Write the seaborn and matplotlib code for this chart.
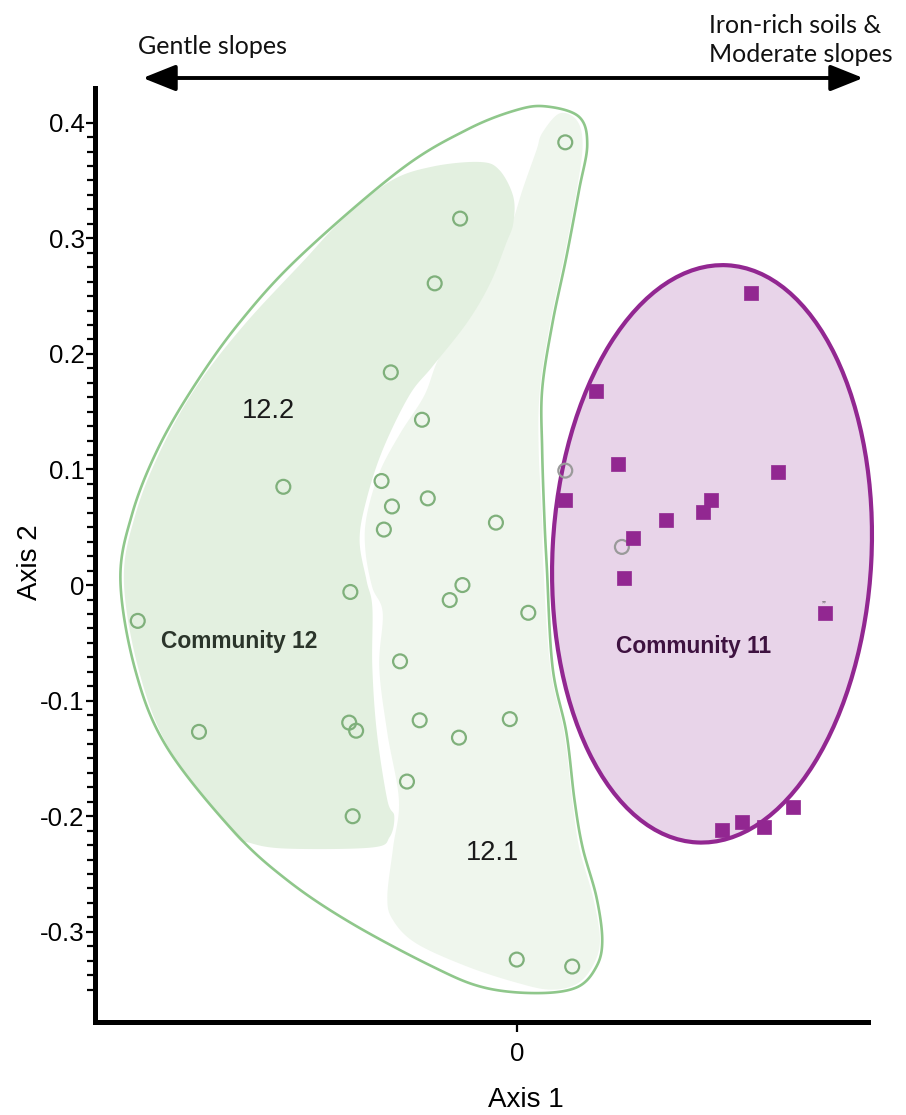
import numpy as np
import pandas as pd
import matplotlib
matplotlib.use("Agg")
import matplotlib.pyplot as plt
import seaborn as sns
from matplotlib import font_manager as fm
from matplotlib.patches import Polygon, Ellipse, FancyArrowPatch
from matplotlib.ticker import FixedLocator

# ---------------- data ----------------
# Community 12 sites (open green circles)
c12_x = [0.042, -0.049, -0.071, -0.109, -0.082, -0.202, -0.117, -0.108, -0.077,
         -0.115, -0.018, -0.328, -0.144, -0.047, -0.058, 0.010, -0.101, -0.275,
         -0.145, -0.139, -0.084, -0.006, -0.050, -0.095, -0.142, 0.000, 0.048]
c12_y = [0.383, 0.317, 0.261, 0.184, 0.143, 0.085, 0.090, 0.068, 0.075,
         0.048, 0.054, -0.031, -0.006, 0.000, -0.013, -0.024, -0.066, -0.127,
         -0.119, -0.126, -0.117, -0.116, -0.132, -0.170, -0.200, -0.324, -0.330]

# Community 12 sites falling inside the Community 11 envelope (grey circles)
c12_grey_x = [0.042, 0.091]
c12_grey_y = [0.099, 0.033]

# Community 11 sites (filled purple squares)
c11_x = [0.203, 0.069, 0.088, 0.042, 0.226, 0.168, 0.161, 0.129, 0.101, 0.093,
         0.267, 0.178, 0.195, 0.214, 0.239]
c11_y = [0.253, 0.168, 0.105, 0.074, 0.098, 0.074, 0.063, 0.056, 0.041, 0.006,
         -0.024, -0.212, -0.205, -0.209, -0.192]

y_ticks = [-0.3, -0.2, -0.1, 0.0, 0.1, 0.2, 0.3, 0.4]
y_tick_labels = ["-0.3", "-0.2", "-0.1", "0", "0.1", "0.2", "0.3", "0.4"]
x_ticks = [0.0]
x_tick_labels = ["0"]

# ---------------- outlines (data units) ----------------
outline_c12 = [
    (0.026, 0.414), (0.054, 0.405), (0.061, 0.381), (0.054, 0.342), (0.043, 0.284),
    (0.031, 0.227), (0.022, 0.169), (0.022, 0.117), (0.024, 0.056), (0.026, 0.016),
    (0.031, -0.071), (0.043, -0.128), (0.050, -0.186), (0.057, -0.227), (0.069, -0.270),
    (0.074, -0.307), (0.069, -0.330), (0.052, -0.348), (0.017, -0.353), (-0.029, -0.348),
    (-0.073, -0.330), (-0.144, -0.292), (-0.199, -0.255), (-0.246, -0.212), (-0.303, -0.140),
    (-0.330, -0.074), (-0.343, 0.004), (-0.333, 0.061), (-0.311, 0.117),
    (-0.280, 0.171), (-0.240, 0.227), (-0.188, 0.284), (-0.101, 0.359), (-0.043, 0.394),
    (0.000, 0.411),
]

region_122 = [
    (-0.110, 0.349), (-0.073, 0.362), (-0.032, 0.366), (-0.015, 0.359), (-0.003, 0.336),
    (-0.003, 0.313), (-0.009, 0.296), (-0.023, 0.261), (-0.043, 0.227), (-0.073, 0.189),
    (-0.093, 0.164), (-0.116, 0.117), (-0.130, 0.074), (-0.136, 0.039), (-0.130, 0.004),
    (-0.125, -0.019), (-0.125, -0.071), (-0.121, -0.128), (-0.112, -0.186), (-0.106, -0.200),
    (-0.110, -0.218), (-0.125, -0.227), (-0.199, -0.228), (-0.231, -0.223), (-0.246, -0.214),
    (-0.300, -0.143), (-0.327, -0.074), (-0.340, 0.004), (-0.330, 0.061), (-0.308, 0.117),
    (-0.277, 0.172), (-0.236, 0.225), (-0.184, 0.281), (-0.153, 0.314),
]

region_121 = [
    (0.037, 0.408), (0.022, 0.391), (0.017, 0.376), (0.005, 0.342), (-0.006, 0.307),
    (-0.023, 0.266), (-0.043, 0.232), (-0.067, 0.197), (-0.080, 0.164), (-0.101, 0.131),
    (-0.119, 0.097), (-0.130, 0.059), (-0.131, 0.030), (-0.125, -0.002), (-0.116, -0.024),
    (-0.119, -0.071), (-0.112, -0.128), (-0.102, -0.186), (-0.107, -0.227), (-0.112, -0.270),
    (-0.107, -0.290), (-0.087, -0.310), (-0.043, -0.330), (0.000, -0.344), (0.029, -0.350),
    (0.052, -0.345), (0.066, -0.329), (0.072, -0.307), (0.066, -0.270), (0.054, -0.227),
    (0.048, -0.186), (0.041, -0.128), (0.029, -0.071), (0.023, 0.016), (0.022, 0.056),
    (0.019, 0.117), (0.020, 0.169), (0.029, 0.227), (0.041, 0.284), (0.052, 0.342),
    (0.057, 0.381), (0.052, 0.402),
]


def smooth_closed(pts, n=24):
    """Closed Catmull-Rom curve through the given vertices."""
    P = np.asarray(pts, dtype=float)
    N = len(P)
    t = np.linspace(0, 1, n, endpoint=False)[:, None]
    segs = []
    for i in range(N):
        p0, p1, p2, p3 = P[(i - 1) % N], P[i], P[(i + 1) % N], P[(i + 2) % N]
        segs.append(0.5 * (2 * p1 + (-p0 + p2) * t
                           + (2 * p0 - 5 * p1 + 4 * p2 - p3) * t ** 2
                           + (-p0 + 3 * p1 - 3 * p2 + p3) * t ** 3))
    return np.vstack(segs)


# ---------------- style ----------------
sns.set_theme(style="ticks")
available = {f.name for f in fm.fontManager.ttflist}
NARROW = "Liberation Sans Narrow" if "Liberation Sans Narrow" in available else "Liberation Sans"
scale = 1.0 if NARROW == "Liberation Sans Narrow" else 0.93
plt.rcParams["font.family"] = [NARROW, "DejaVu Sans"]

GREEN_LINE = "#8fc78b"
GREEN_MARK = "#7fb07b"
FILL_122 = "#e3f0e0"
FILL_121 = "#eff6ed"
PURPLE = "#922791"
PURPLE_FILL = "#e8d4e9"

fig = plt.figure(figsize=(9.06, 11.15), dpi=100)
ax = fig.add_axes([95 / 906, 1 - 1022 / 1115, (868 - 95) / 906, (1022 - 88) / 1115])

ax.set_xlim(-0.365, 0.304)
ax.set_ylim(-0.378, 0.430)

# sub-community envelopes and Community 12 boundary
ax.add_patch(Polygon(smooth_closed(region_121), closed=True, facecolor=FILL_121,
                     edgecolor="none", zorder=1))
ax.add_patch(Polygon(smooth_closed(region_122), closed=True, facecolor=FILL_122,
                     edgecolor="none", zorder=1.1))
ax.add_patch(Polygon(smooth_closed(outline_c12), closed=True, facecolor="none",
                     edgecolor=GREEN_LINE, linewidth=1.9, zorder=1.5))

# Community 11 envelope
ax.add_patch(Ellipse((0.169, 0.027), width=0.276, height=0.500, angle=-3,
                     facecolor=PURPLE_FILL, edgecolor=PURPLE, linewidth=3.0,
                     zorder=1.6, clip_on=False))

# sites
df12 = pd.DataFrame({"Axis 1": c12_x, "Axis 2": c12_y})
df12g = pd.DataFrame({"Axis 1": c12_grey_x, "Axis 2": c12_grey_y})
df11 = pd.DataFrame({"Axis 1": c11_x, "Axis 2": c11_y})

sns.scatterplot(data=df12, x="Axis 1", y="Axis 2", ax=ax, marker="o", s=100,
                facecolor="none", edgecolor=GREEN_MARK, linewidth=1.6, zorder=3)
sns.scatterplot(data=df12g, x="Axis 1", y="Axis 2", ax=ax, marker="o", s=100,
                facecolor="none", edgecolor="#9a9a9a", linewidth=1.6, zorder=3)
sns.scatterplot(data=df11, x="Axis 1", y="Axis 2", ax=ax, marker="s", s=100,
                color=PURPLE, edgecolor=PURPLE, linewidth=0.5, zorder=3)
ax.text(0.265, -0.018, "\u201d", fontsize=8, color="#444444", ha="center",
        va="center", zorder=4)

# group labels
ax.text(-0.215, 0.151, "12.2", fontsize=21 * scale, color="#1a1a1a",
        ha="center", va="center", zorder=4)
ax.text(-0.021, -0.232, "12.1", fontsize=21 * scale, color="#1a1a1a",
        ha="center", va="center", zorder=4)
ax.text(-0.240, -0.049, "Community 12", fontsize=17.6 * scale, fontweight="bold",
        color="#2b352b", ha="center", va="center", zorder=4)
ax.text(0.153, -0.053, "Community 11", fontsize=17.6 * scale, fontweight="bold",
        color="#3e1240", ha="center", va="center", zorder=4)

# axes
for side in ("top", "right"):
    ax.spines[side].set_visible(False)
for side in ("left", "bottom"):
    ax.spines[side].set_linewidth(3.6)
    ax.spines[side].set_color("black")

ax.set_yticks(y_ticks)
ax.set_yticklabels(y_tick_labels)
ax.yaxis.set_minor_locator(FixedLocator(np.arange(-0.35, 0.4001, 0.0125)))
ax.set_xticks(x_ticks)
ax.set_xticklabels(x_tick_labels)
ax.tick_params(axis="y", which="major", length=6.5, width=1.6, pad=1,
               labelsize=20 * scale, colors="black", direction="out")
ax.tick_params(axis="y", which="minor", length=5.5, width=1.6, direction="out",
               colors="black")
ax.tick_params(axis="x", which="major", length=7.5, width=1.6, pad=7,
               labelsize=20 * scale, colors="black", direction="out")
ax.set_xlabel("Axis 1", fontsize=21.5 * scale, color="black")
ax.set_ylabel("Axis 2", fontsize=21.5 * scale, color="black")
ax.xaxis.set_label_coords((526 - 95) / 773, -(1100 - 1022) / 934)
ax.yaxis.set_label_coords(-(95 - 30) / 773, (1022 - 562) / 934)
ax.xaxis.label.set_va("center")
ax.yaxis.label.set_va("center")

# gradient arrow across the top
fig.patches.append(FancyArrowPatch(
    (140 / 906, 1 - 78 / 1115), (866 / 906, 1 - 78 / 1115),
    transform=fig.transFigure, arrowstyle="<|-|>,head_length=1.0,head_width=0.4",
    mutation_scale=20, linewidth=2.8, color="black"))
fig.text(138 / 906, 1 - 46 / 1115, "Gentle slopes", family=["Lato", "DejaVu Sans"],
         fontsize=18, ha="left", va="center", color="#111111")
fig.text(709 / 906, 1 - 40 / 1115, "Iron-rich soils &\nModerate slopes",
         family=["Lato", "DejaVu Sans"], fontsize=18, ha="left", va="center",
         color="#111111", linespacing=1.3)

fig.savefig("out.png", dpi=100)
